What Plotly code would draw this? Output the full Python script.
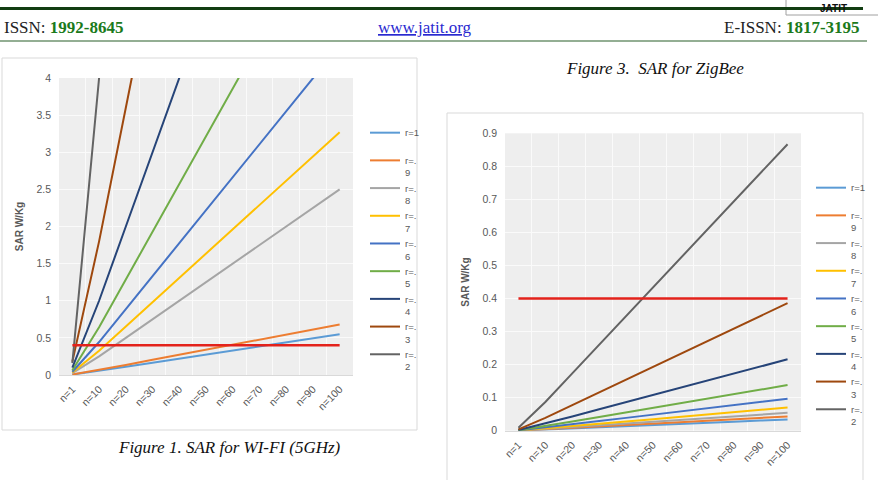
import plotly.graph_objects as go

# ---------------- data ----------------
categories = ["n=1", "n=10", "n=20", "n=30", "n=40", "n=50",
              "n=60", "n=70", "n=80", "n=90", "n=100"]
series_names = ["r=1<br>\u00a0", "r=.<br>9", "r=.<br>8", "r=.<br>7", "r=.<br>6",
                "r=.<br>5", "r=.<br>4", "r=.<br>3", "r=.<br>2"]

# Figure 1: SAR for WI-FI (5GHz)
wifi_r10 = [0.006, 0.055, 0.11, 0.165, 0.22, 0.275, 0.33, 0.385, 0.44, 0.495, 0.55]
wifi_r09 = [0.007, 0.068, 0.136, 0.204, 0.272, 0.34, 0.408, 0.476, 0.544, 0.612, 0.68]
wifi_r08 = [0.025, 0.25, 0.5, 0.75, 1.0, 1.25, 1.5, 1.75, 2.0, 2.25, 2.5]
wifi_r07 = [0.033, 0.327, 0.654, 0.981, 1.308, 1.635, 1.962, 2.289, 2.616, 2.943, 3.27]
wifi_r06 = [0.044, 0.444, 0.888, 1.332, 1.776, 2.22, 2.664, 3.108, 3.552, 3.996, 4.44]
wifi_r05 = [0.064, 0.643, 1.286, 1.929, 2.572, 3.215, 3.858, 4.501, 5.144, 5.787, 6.43]
wifi_r04 = [0.10, 1.0, 2.0, 3.0, 4.0, 5.0, 6.0, 7.0, 8.0, 9.0, 10.0]
wifi_r03 = [0.18, 1.8, 3.6, 5.4, 7.2, 9.0, 10.8, 12.6, 14.4, 16.2, 18.0]
wifi_r02 = [0.16, 4.0, 8.0, 12.0, 16.0, 20.0, 24.0, 28.0, 32.0, 36.0, 40.0]
wifi_limit = [0.4, 0.4, 0.4, 0.4, 0.4, 0.4, 0.4, 0.4, 0.4, 0.4, 0.4]

# Figure 3: SAR for ZigBee
zig_r10 = [0.0003, 0.0034, 0.0068, 0.0102, 0.0136, 0.017, 0.0204, 0.0238, 0.0272, 0.0306, 0.034]
zig_r09 = [0.0004, 0.0043, 0.0086, 0.0129, 0.0172, 0.0215, 0.0258, 0.0301, 0.0344, 0.0387, 0.043]
zig_r08 = [0.0005, 0.0054, 0.0108, 0.0162, 0.0216, 0.027, 0.0324, 0.0378, 0.0432, 0.0486, 0.054]
zig_r07 = [0.0007, 0.007, 0.014, 0.021, 0.028, 0.035, 0.042, 0.049, 0.056, 0.063, 0.070]
zig_r06 = [0.001, 0.0097, 0.0194, 0.0291, 0.0388, 0.0485, 0.0582, 0.0679, 0.0776, 0.0873, 0.097]
zig_r05 = [0.0014, 0.0138, 0.0276, 0.0414, 0.0552, 0.069, 0.0828, 0.0966, 0.1104, 0.1242, 0.138]
zig_r04 = [0.0022, 0.0216, 0.0432, 0.0648, 0.0864, 0.108, 0.1296, 0.1512, 0.1728, 0.1944, 0.216]
zig_r03 = [0.0039, 0.0386, 0.0772, 0.1158, 0.1544, 0.193, 0.2316, 0.2702, 0.3088, 0.3474, 0.386]
zig_r02 = [0.0087, 0.0867, 0.1734, 0.2601, 0.3468, 0.4335, 0.5202, 0.6069, 0.6936, 0.7803, 0.867]
zig_limit = [0.4, 0.4, 0.4, 0.4, 0.4, 0.4, 0.4, 0.4, 0.4, 0.4, 0.4]

wifi_series = [wifi_r10, wifi_r09, wifi_r08, wifi_r07, wifi_r06,
               wifi_r05, wifi_r04, wifi_r03, wifi_r02]
zig_series = [zig_r10, zig_r09, zig_r08, zig_r07, zig_r06,
              zig_r05, zig_r04, zig_r03, zig_r02]

wifi_yticks = [0, 0.5, 1, 1.5, 2, 2.5, 3, 3.5, 4]
zig_yticks = [0, 0.1, 0.2, 0.3, 0.4, 0.5, 0.6, 0.7, 0.8, 0.9]

# ---------------- styling ----------------
W, H = 878, 480
colors = ["#5B9BD5", "#ED7D31", "#A5A5A5", "#FFC000", "#4472C4",
          "#70AD47", "#264478", "#9E480E", "#636363"]
LIMIT_COLOR = "#E3221B"
GRAY_TXT = "#595959"
SANS = "Liberation Sans"
SERIF = "Liberation Serif"


def px_x(px):
    return px / W


def px_y(py):
    return (H - py) / H


fig = go.Figure()

for name, vals, col in zip(series_names, wifi_series, colors):
    fig.add_trace(go.Scatter(x=categories, y=vals, mode="lines", name=name,
                             line=dict(color=col, width=2),
                             xaxis="x", yaxis="y", legend="legend"))
fig.add_trace(go.Scatter(x=categories, y=wifi_limit, mode="lines", name="limit",
                         line=dict(color=LIMIT_COLOR, width=2.5),
                         xaxis="x", yaxis="y", showlegend=False))

for name, vals, col in zip(series_names, zig_series, colors):
    fig.add_trace(go.Scatter(x=categories, y=vals, mode="lines", name=name,
                             line=dict(color=col, width=2),
                             xaxis="x2", yaxis="y2", legend="legend2"))
fig.add_trace(go.Scatter(x=categories, y=zig_limit, mode="lines", name="limit",
                         line=dict(color=LIMIT_COLOR, width=2.5),
                         xaxis="x2", yaxis="y2", showlegend=False))

tickfont = dict(family=SANS, size=10.5, color=GRAY_TXT)
xcommon = dict(type="category", tickangle=-45, tickson="boundaries",
               range=[-0.5, len(categories) - 0.5],
               showgrid=True, gridcolor="#fafafa", gridwidth=1,
               showline=True, linecolor="#d9d9d9", ticks="",
               tickfont=tickfont, fixedrange=True, ticklabelstandoff=3,
               automargin=False)
ycommon = dict(showgrid=True, gridcolor="#fafafa", gridwidth=1,
               zeroline=False, showline=False, ticks="",
               tickfont=tickfont, ticklabelstandoff=7, automargin=False,
               title=dict(text="<b>SAR W/Kg</b>",
                          font=dict(family=SANS, size=10, color=GRAY_TXT),
                          standoff=10))

legcommon = dict(font=dict(family=SANS, size=9.5, color=GRAY_TXT),
                 valign="top", bgcolor="rgba(0,0,0,0)", itemwidth=30,
                 xanchor="left", yanchor="top", tracegroupgap=0)

shapes = [
    # chart boxes
    dict(type="rect", xref="paper", yref="paper",
         x0=px_x(2), x1=px_x(417), y0=px_y(430), y1=px_y(58),
         line=dict(color="#d9d9d9", width=1), fillcolor="rgba(0,0,0,0)", layer="below"),
    dict(type="rect", xref="paper", yref="paper",
         x0=px_x(447), x1=px_x(863), y0=px_y(490), y1=px_y(113),
         line=dict(color="#d9d9d9", width=1), fillcolor="rgba(0,0,0,0)", layer="below"),
    # header logo box
    dict(type="rect", xref="paper", yref="paper",
         x0=px_x(786), x1=px_x(885), y0=px_y(15), y1=px_y(-5),
         line=dict(color="#a0a0a0", width=1), fillcolor="white"),
    # header rules
    dict(type="line", xref="paper", yref="paper",
         x0=0, x1=px_x(863), y0=px_y(8.5), y1=px_y(8.5),
         line=dict(color="#123d12", width=3)),
    dict(type="line", xref="paper", yref="paper",
         x0=0, x1=px_x(867), y0=px_y(41), y1=px_y(41),
         line=dict(color="#6f936f", width=1.5)),
]

annotations = [
    dict(text="ISSN: <b><span style='color:#1b7a1b'>1992-8645</span></b>",
         x=px_x(2), y=px_y(27), xanchor="left", yanchor="middle",
         font=dict(family=SERIF, size=17, color="#222222")),
    dict(text="<u>www.jatit.org</u>",
         x=px_x(425), y=px_y(27), xanchor="center", yanchor="middle",
         font=dict(family=SERIF, size=17, color="#2a2ad0")),
    dict(text="E-ISSN: <b><span style='color:#1b7a1b'>1817-3195</span></b>",
         x=px_x(862), y=px_y(27), xanchor="right", yanchor="middle",
         font=dict(family=SERIF, size=17, color="#222222")),
    dict(text="<b>JATIT</b>", x=px_x(833), y=px_y(1), xanchor="center", yanchor="top",
         font=dict(family=SANS, size=10, color="#111111")),
    dict(text="<i>Figure 1. SAR for WI-FI (5GHz)</i>",
         x=px_x(229), y=px_y(447), xanchor="center", yanchor="middle",
         font=dict(family=SERIF, size=17, color="#111111")),
    dict(text="<i>Figure 3.  SAR for ZigBee</i>",
         x=px_x(655), y=px_y(68), xanchor="center", yanchor="middle",
         font=dict(family=SERIF, size=17, color="#111111")),
]
for a in annotations:
    a.update(xref="paper", yref="paper", showarrow=False)

fig.update_layout(
    width=W, height=H,
    margin=dict(l=0, r=0, t=0, b=0, pad=0, autoexpand=False),
    paper_bgcolor="white",
    plot_bgcolor="#eeeeee",
    xaxis=dict(xcommon, domain=[px_x(59), px_x(353)], anchor="y"),
    yaxis=dict(ycommon, domain=[px_y(375), px_y(78)], anchor="x",
               range=[0, 4], tickvals=wifi_yticks,
               ticktext=[f"{v:g}" for v in wifi_yticks]),
    xaxis2=dict(xcommon, domain=[px_x(505), px_x(801)], anchor="y2"),
    yaxis2=dict(ycommon, domain=[px_y(430.7), px_y(133.3)], anchor="x2",
                range=[0, 0.9], tickvals=zig_yticks,
                ticktext=[f"{v:g}" for v in zig_yticks]),
    legend=dict(legcommon, x=px_x(365), y=px_y(120)),
    legend2=dict(legcommon, x=px_x(811), y=px_y(175)),
    shapes=shapes,
    annotations=annotations,
    showlegend=True,
)

fig.write_html("out.html", config={"displayModeBar": False})
